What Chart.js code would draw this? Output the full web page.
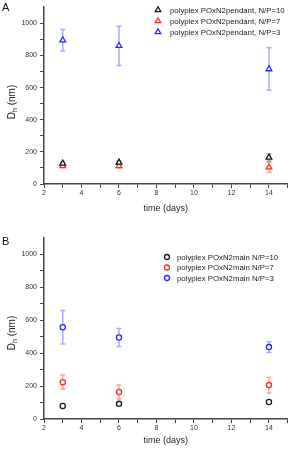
<!DOCTYPE html>
<html>
<head>
<meta charset="utf-8">
<script src="https://cdn.jsdelivr.net/npm/chart.js@4/dist/chart.umd.min.js"></script>
<style>
html,body{margin:0;padding:0;background:#fff;width:293px;height:449px;overflow:hidden}
canvas{position:absolute;left:0}
#chartA{top:0}
#chartB{top:225px}
</style>
</head>
<body>
<canvas id="chartA" width="293" height="225"></canvas>
<canvas id="chartB" width="293" height="224"></canvas>
<script>
// time points (days)
const days=[3,6,14];

// panel A : POxN2pendant
const labelsA=['polyplex POxN2pendant, N/P=10','polyplex POxN2pendant, N/P=7','polyplex POxN2pendant, N/P=3'];
const a_np10=[128,134,165],   a_np10_err=[8,8,22];
const a_np7=[112,112,104],    a_np7_err=[10,12,32];
const a_np3=[895,860,715],    a_np3_err=[67,122,132];

// panel B : POxN2main
const labelsB=['polyplex POxN2main N/P=10','polyplex POxN2main N/P=7','polyplex POxN2main N/P=3'];
const b_np10=[79,92,103],     b_np10_err=[4,5,5];
const b_np7=[224,164,206],    b_np7_err=[43,42,48];
const b_np3=[558,495,437],    b_np3_err=[102,55,33];

// axis ticks
const yTicks=[0,200,400,600,800,1000];
const xTicks=[2,4,6,8,10,12,14];

const FONT='"Liberation Sans", Arial, sans-serif';
const colors=['#1a1a1a','#ff2a2a','#2a2aff'];
const errColors=['rgba(90,90,90,0.55)','rgba(255,90,90,0.55)','rgba(100,100,255,0.55)'];

function pts(v){ return days.map((d,i)=>({x:d,y:v[i]})); }

function marker(ctx,style,x,y,r,color){
  ctx.beginPath();
  if(style==='triangle'){
    ctx.moveTo(x,y-r);
    ctx.lineTo(x+r*0.866,y+r*0.5);
    ctx.lineTo(x-r*0.866,y+r*0.5);
    ctx.closePath();
  } else {
    ctx.arc(x,y,r,0,2*Math.PI);
  }
  ctx.fillStyle='#fff';ctx.fill();
  ctx.strokeStyle=color;ctx.lineWidth=1.3;ctx.stroke();
}

const errorBars={
  id:'errorBars',
  beforeDatasetsDraw(chart){
    const {ctx,scales:{x,y}}=chart;
    chart.data.datasets.forEach(ds=>{
      ctx.save();
      ctx.strokeStyle=ds.errorColor;ctx.lineWidth=1.5;
      ds.data.forEach((p,j)=>{
        const e=ds.errors[j];
        const px=x.getPixelForValue(p.x);
        const y1=y.getPixelForValue(p.y+e),y2=y.getPixelForValue(p.y-e);
        ctx.beginPath();
        ctx.moveTo(px,y1);ctx.lineTo(px,y2);
        ctx.moveTo(px-2.5,y1);ctx.lineTo(px+2.5,y1);
        ctx.moveTo(px-2.5,y2);ctx.lineTo(px+2.5,y2);
        ctx.stroke();
      });
      ctx.restore();
    });
  }
};

const decor={
  id:'decor',
  afterDraw(chart,args,o){
    const ctx=chart.ctx;
    ctx.save();
    // panel letter
    ctx.fillStyle='#111';ctx.font='11px '+FONT;
    ctx.textAlign='left';ctx.textBaseline='top';
    ctx.fillText(o.letter,o.letterX,o.letterY);
    // y title with subscript
    ctx.translate(o.yTitleX,o.yTitleY);ctx.rotate(-Math.PI/2);
    ctx.fillStyle='#222';ctx.textBaseline='middle';
    ctx.font='10px '+FONT;const wD=ctx.measureText('D').width;const wn=ctx.measureText(' (nm)').width;
    ctx.font='7px '+FONT;const wh=ctx.measureText('h').width;
    let cx=-(wD+wh+wn)/2;
    ctx.font='10px '+FONT;ctx.fillText('D',cx,0);cx+=wD;
    ctx.font='7px '+FONT;ctx.fillText('h',cx,3);cx+=wh;
    ctx.font='10px '+FONT;ctx.fillText(' (nm)',cx,0);
    ctx.setTransform(1,0,0,1,0,0);
    // legend
    ctx.font='7.8px '+FONT;ctx.textBaseline='middle';ctx.textAlign='left';
    chart.data.datasets.forEach((ds,i)=>{
      const ly=o.legY+i*o.legStep;
      marker(ctx,o.style,o.legMarkX,ly,o.style==='triangle'?3.2:2.5,ds.borderColor);
      ctx.fillStyle='#222';
      ctx.fillText(ds.label,o.legTextX,ly+0.5);
    });
    ctx.restore();
  }
};

function makeChart(id,labels,series,errs,style,lay){
  const datasets=series.map((s,i)=>({
    label:labels[i],
    data:pts(s),
    errors:errs[i],
    errorColor:errColors[i],
    borderColor:colors[i],
    pointStyle:style,
    pointRadius:style==='triangle'?3.3:2.6,
    pointBorderWidth:1.3,
    pointBackgroundColor:'#fff',
    pointBorderColor:colors[i],
    showLine:false
  }));
  return new Chart(document.getElementById(id),{
    type:'scatter',
    data:{datasets:datasets},
    plugins:[errorBars,decor],
    options:{
      responsive:false,
      animation:false,
      layout:{padding:{top:lay.top,right:1,left:0,bottom:0}},
      plugins:{
        legend:{display:false},
        tooltip:{enabled:false},
        decor:lay.decor
      },
      scales:{
        x:{
          type:'linear',min:2,max:15,
          afterFit(s){s.height=lay.xHeight;},
          ticks:{stepSize:1,autoSkip:false,maxRotation:0,padding:1,color:'#333',
            font:{size:7,family:FONT},
            callback:v=>xTicks.includes(v)?String(v):''},
          grid:{drawOnChartArea:false,tickLength:4,color:'#444'},
          border:{color:'#444',width:1.5},
          title:{display:true,text:'time (days)',color:'#222',
            font:{size:9,family:FONT},padding:{top:0,bottom:lay.titlePad}}
        },
        y:{
          min:0,max:1100,
          afterFit(s){s.width=44;},
          ticks:{stepSize:100,autoSkip:false,padding:3,color:'#333',
            font:{size:7,family:FONT},
            callback:v=>yTicks.includes(v)?String(v):''},
          grid:{drawOnChartArea:false,tickLength:4,
            color:c=>(c.tick&&c.tick.value===1100)?'rgba(0,0,0,0)':'#444'},
          border:{color:'#444',width:1.5}
        }
      }
    }
  });
}

makeChart('chartA',labelsA,[a_np10,a_np7,a_np3],[a_np10_err,a_np7_err,a_np3_err],'triangle',
  {top:4,xHeight:41,titlePad:11,
   decor:{letter:'A',letterX:2,letterY:2,yTitleX:12,yTitleY:102,
     legMarkX:158,legTextX:170,legY:10,legStep:11,style:'triangle'}});

makeChart('chartB',labelsB,[b_np10,b_np7,b_np3],[b_np10_err,b_np7_err,b_np3_err],'circle',
  {top:13,xHeight:30,titlePad:3,
   decor:{letter:'B',letterX:2,letterY:11,yTitleX:12,yTitleY:108,
     legMarkX:167,legTextX:177,legY:32,legStep:10.5,style:'circle'}});
</script>
</body>
</html>
